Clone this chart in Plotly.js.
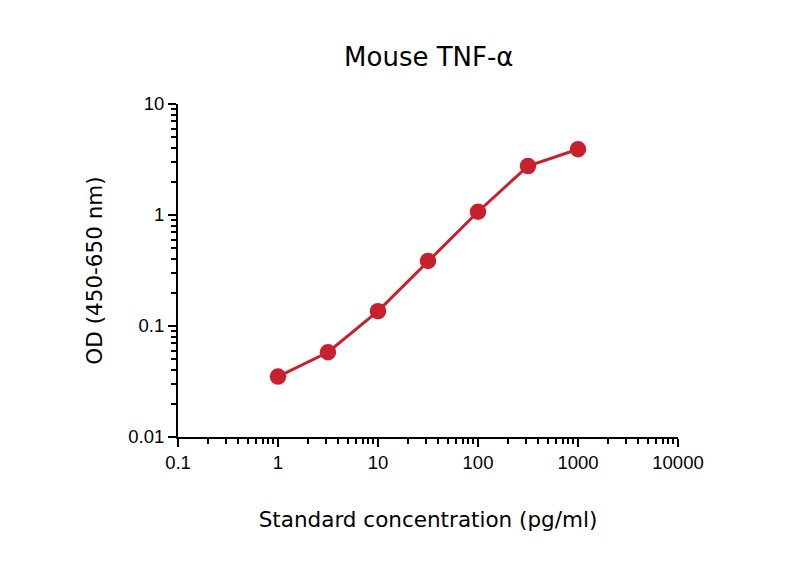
<!DOCTYPE html>
<html><head><meta charset="utf-8">
<script src="https://cdn.plot.ly/plotly-3.0.1.min.js"></script>
<style>body{margin:0;background:#fff}#c{width:800px;height:566px}</style>
</head><body><div id="c"></div>
<script>
const conc = [1, 3.16, 10, 31.6, 100, 316, 1000];
const od = [0.035, 0.058, 0.136, 0.385, 1.07, 2.76, 3.91];
const xTicks = [0.1, 1, 10, 100, 1000, 10000];
const xTickText = ['0.1', '1', '10', '100', '1000', '10000'];
const yTicks = [0.01, 0.1, 1, 10];
const yTickText = ['0.01', '0.1', '1', '10'];

function minorVals(decades) {
  const out = [];
  decades.slice(0, -1).forEach(d => { for (let k = 2; k <= 9; k++) out.push(d * k); });
  return out;
}

const red = '#c8202f';
const tickFont = {family: '"Liberation Sans", Arial, sans-serif', size: 18.5, color: '#000'};
const titleFont = {family: '"DejaVu Sans", Verdana, sans-serif', size: 21.5, color: '#000'};

Plotly.newPlot('c', [{
  x: conc, y: od, type: 'scatter', mode: 'lines+markers',
  line: {color: red, width: 3},
  marker: {color: red, size: 16.5}
}], {
  width: 800, height: 566,
  margin: {l: 178, r: 122, t: 104, b: 129},
  paper_bgcolor: '#fff', plot_bgcolor: '#fff',
  showlegend: false,
  title: {text: 'Mouse TNF-α', font: {family: '"DejaVu Sans", Verdana, sans-serif', size: 26, color: '#000'}, x: 0.536, xanchor: 'center', y: 0.9, yanchor: 'middle'},
  xaxis: {
    type: 'log', range: [-1, 4], tickvals: xTicks, ticktext: xTickText,
    showgrid: false, zeroline: false, showline: true, linecolor: '#000', linewidth: 2,
    ticks: 'outside', ticklen: 8, tickwidth: 2, tickcolor: '#000', tickfont: tickFont,
    minor: {tickvals: minorVals(xTicks), ticks: 'outside', ticklen: 5, tickwidth: 1.5, tickcolor: '#000', showgrid: false},
    title: {text: 'Standard concentration (pg/ml)', font: titleFont, standoff: 40}
  },
  yaxis: {
    type: 'log', range: [-2, 1], tickvals: yTicks, ticktext: yTickText,
    showgrid: false, zeroline: false, showline: true, linecolor: '#000', linewidth: 2,
    ticks: 'outside', ticklen: 8, tickwidth: 2, tickcolor: '#000', tickfont: tickFont,
    minor: {tickvals: minorVals(yTicks), ticks: 'outside', ticklen: 5, tickwidth: 1.5, tickcolor: '#000', showgrid: false},
    title: {text: 'OD (450-650 nm)', font: titleFont, standoff: 20}
  }
}, {displayModeBar: false});
</script></body></html>
